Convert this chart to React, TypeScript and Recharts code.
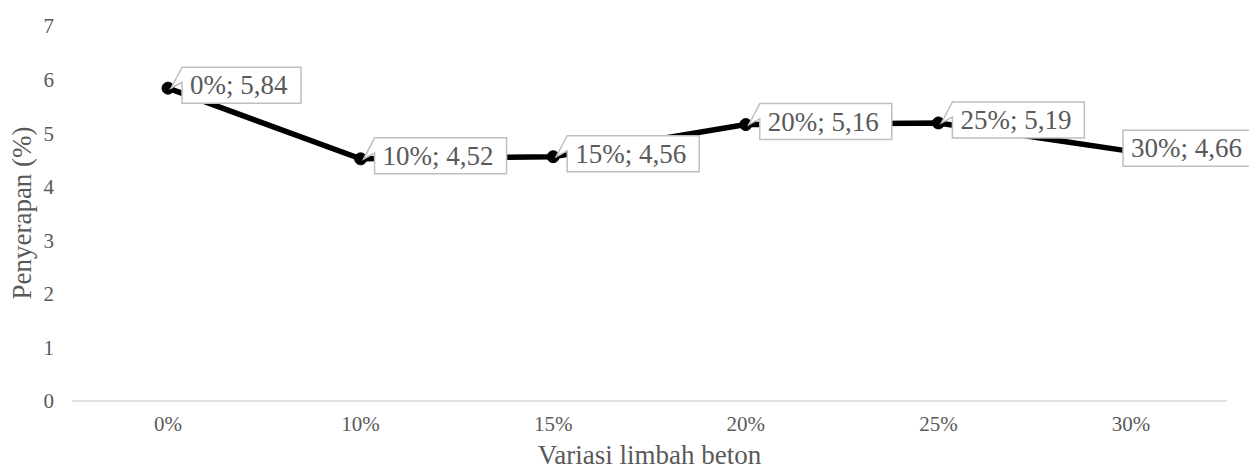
import React from "react";
import { LineChart, Line, XAxis, YAxis, LabelList } from "recharts";

// absorption (%) per concrete-waste percentage
const variations = ["0%", "10%", "15%", "20%", "25%", "30%"];
const absorption = [5.84, 4.52, 4.56, 5.16, 5.19, 4.66];
const yTicks = [0, 1, 2, 3, 4, 5, 6, 7];

const data = variations.map((v, i) => ({ variasi: v, penyerapan: absorption[i] }));

const WIDTH = 1249;
const HEIGHT = 470;
const FONT = '"Liberation Serif", "Times New Roman", serif';
const GREY = "#595959";

// callout box to the right of each point; pushed back left when it runs off the edge
const CalloutLabel = (props: any) => {
    const { x, y, value, index } = props;
    if (x == null || y == null) return null;
    const text = `${variations[index]}; ${Number(value).toFixed(2).replace(".", ",")}`;
    const w = text.length * 13 + 15;
    const h = 36;
    let bx = x + 14;
    const by = y - 21;
    let pointer = true;
    if (bx + w > WIDTH) {
        bx = x - 8;
        pointer = false;
    }
    const d = pointer
        ? `M${bx},${by} L${bx + w},${by} L${bx + w},${by + h} L${bx},${by + h} L${bx},${by + h * 0.42} L${x + 3},${y} Z`
        : `M${bx},${by} L${bx + w},${by} L${bx + w},${by + h} L${bx},${by + h} Z`;
    return (
        <g>
            <path d={d} fill="#ffffff" stroke="#bfbfbf" strokeWidth={1.5} />
            <text x={bx + 8} y={by + h / 2 + 9} fontFamily={FONT} fontSize={27} fill={GREY}>
                {text}
            </text>
        </g>
    );
};

export default function App() {
    return (
        <div style={{ position: "absolute", left: 0, top: 0, background: "#fff" }}>
            <LineChart
                width={WIDTH}
                height={HEIGHT}
                data={data}
                margin={{ top: 26, right: 22, bottom: 0, left: 0 }}
            >
                <XAxis
                    dataKey="variasi"
                    height={69}
                    padding={{ left: 96, right: 96 }}
                    axisLine={{ stroke: "#d9d9d9", strokeWidth: 1.5 }}
                    tickLine={false}
                    tickSize={0}
                    tickMargin={15}
                    tick={{ fontFamily: FONT, fontSize: 21, fill: GREY }}
                    label={{
                        content: (p: any) => {
                            const vb = p.viewBox || {};
                            return (
                                <text
                                    x={vb.x + vb.width / 2}
                                    y={464}
                                    textAnchor="middle"
                                    fontFamily={FONT}
                                    fontSize={27}
                                    fill={GREY}
                                >
                                    Variasi limbah beton
                                </text>
                            );
                        },
                    }}
                />
                <YAxis
                    width={72}
                    domain={[0, 7]}
                    ticks={yTicks}
                    axisLine={false}
                    tickLine={false}
                    tickSize={0}
                    tickMargin={18}
                    tick={{ fontFamily: FONT, fontSize: 21, fill: GREY }}
                    label={{
                        content: () => (
                            <text
                                x={31}
                                y={213}
                                transform="rotate(-90, 31, 213)"
                                textAnchor="middle"
                                fontFamily={FONT}
                                fontSize={27}
                                fill={GREY}
                            >
                                Penyerapan (%)
                            </text>
                        ),
                    }}
                />
                <Line
                    dataKey="penyerapan"
                    stroke="#000000"
                    strokeWidth={5.5}
                    dot={{ r: 6, fill: "#000000", stroke: "#000000", strokeWidth: 1 }}
                    isAnimationActive={false}
                >
                    <LabelList dataKey="penyerapan" content={<CalloutLabel />} />
                </Line>
            </LineChart>
        </div>
    );
}
